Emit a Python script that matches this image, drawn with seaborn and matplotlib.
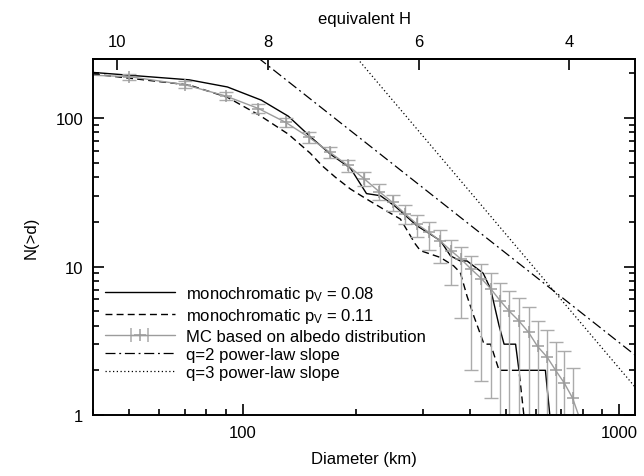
import numpy as np
import matplotlib
matplotlib.use("Agg")
import matplotlib.pyplot as plt
import seaborn as sns
from matplotlib.ticker import LogLocator, NullFormatter, NullLocator, FuncFormatter
from matplotlib.legend_handler import HandlerErrorbar

# ---------------- data ----------------
d_mono08 = [40, 72, 91, 112, 132, 151, 171, 193, 213, 232, 254, 290, 315, 335, 356, 378, 394, 435, 455, 479, 494, 530, 541, 636, 656]
n_mono08 = [203, 181, 162, 132, 103, 75, 57, 46, 31, 30, 25.4, 18.8, 16.5, 14.9, 11.8, 10.9, 10.9, 9.0, 7.05, 4.0, 3.0, 3.0, 2.0, 2.0, 0.9]

d_mono11 = [40, 72, 91, 111, 132, 151, 162, 176, 193, 213, 236, 262, 287, 296, 335, 363, 378, 394, 411, 437, 455, 479, 541, 560]
n_mono11 = [198, 167, 138, 104, 78, 58, 48, 40, 33.3, 28.5, 24.4, 20.9, 14.2, 12.8, 11.5, 10.1, 9.1, 6.3, 4.6, 3.0, 3.0, 2.0, 2.0, 0.9]

d_mc = [30, 50, 70, 90, 110, 130, 150, 170, 190, 210, 230, 250, 270, 290, 312, 334, 357, 380, 404, 430,
        455, 482, 510, 541, 574, 606, 643, 677, 713, 751, 790]
n_mc = [200, 190, 168, 141, 116, 93.5, 74, 59, 48, 39, 32, 27, 22.6, 19.3, 17, 14.9, 12.8, 11.2, 9.6, 8.3,
        7.1, 5.9, 5.0, 4.3, 3.6, 2.9, 2.45, 2.0, 1.65, 1.3, 0.9]
mc_err_lo = [5, 9, 8.5, 8, 7.5, 7, 6, 5.2, 4.6, 4.2, 3.8, 3.5, 3.4, 3.5, 4.0, 4.4, 5.3, 6.7, 7.6, 6.6,
             5.8, 5.0, 4.5, 3.8, 3.1, 2.4, 2.0, 1.6, 1.3, 1.0, 0.1]
mc_err_hi = [5, 9, 8.5, 8, 7.5, 7, 6, 5.2, 4.6, 4.2, 3.8, 3.5, 3.2, 3.0, 2.8, 2.6, 2.4, 2.3, 2.2, 2.1,
             2.0, 1.9, 1.8, 1.8, 1.7, 1.4, 1.3, 1.1, 1.05, 0.76, 0.05]

q2_d = [100, 1200]
q2_n = [307, 2.13]
q3_d = [190, 1200]
q3_n = [300, 1.19]

h_ticks = [10, 8, 6, 4]
h_zero_d = 4640.0   # diameter (km) corresponding to H = 0 on the top axis

labels = [r"monochromatic p$_\mathrm{V}$ = 0.08", r"monochromatic p$_\mathrm{V}$ = 0.11",
          "MC based on albedo distribution", "q=2 power-law slope", "q=3 power-law slope"]

# ---------------- style ----------------
sns.set_theme(style="ticks")
plt.rcParams["font.family"] = ["Liberation Sans", "DejaVu Sans"]
plt.rcParams.update({
    "font.size": 12,
    "axes.linewidth": 1.4,
    "axes.edgecolor": "black",
    "axes.labelcolor": "black",
    "text.color": "black",
    "xtick.color": "black",
    "ytick.color": "black",
    "mathtext.fontset": "custom",
    "mathtext.rm": "Liberation Sans",
    "mathtext.it": "Liberation Sans:italic",
})

fig = plt.figure(figsize=(6.44, 4.77), dpi=100)
ax = fig.add_axes([93 / 644, 61 / 477, (635 - 93) / 644, (416 - 60) / 477])

GRAY = "#9c9c9c"
EGRAY = "#ababab"

sns.lineplot(x=d_mono08, y=n_mono08, ax=ax, color="black", lw=1.0,
             estimator=None, sort=False)
h08 = ax.lines[-1]
sns.lineplot(x=d_mono11, y=n_mono11, ax=ax, color="black", lw=1.0, linestyle=(0, (5, 3)),
             estimator=None, sort=False)
h11 = ax.lines[-1]
ax.errorbar(d_mc, n_mc, yerr=[mc_err_lo, mc_err_hi], fmt="none", ecolor=EGRAY,
            elinewidth=1.0, capsize=5, capthick=1.0)
sns.lineplot(x=d_mc, y=n_mc, ax=ax, color=GRAY, lw=1.0, marker="+", markersize=9,
             markeredgewidth=1.1, markeredgecolor=GRAY, estimator=None, sort=False)
sns.lineplot(x=q2_d, y=q2_n, ax=ax, color="black", lw=0.9, linestyle=(0, (8, 3, 1.5, 3)),
             estimator=None, sort=False)
hq2 = ax.lines[-1]
sns.lineplot(x=q3_d, y=q3_n, ax=ax, color="black", lw=0.9, linestyle=(0, (1, 2)),
             estimator=None, sort=False)
hq3 = ax.lines[-1]

ax.set_xscale("log")
ax.set_yscale("log")
ax.set_xlim(40, 1100)
ax.set_ylim(1, 250)

fmt = FuncFormatter(lambda v, p: f"{v:g}")
ax.xaxis.set_major_locator(LogLocator(base=10))
ax.xaxis.set_minor_locator(LogLocator(base=10, subs=np.arange(2, 10)))
ax.xaxis.set_major_formatter(fmt)
ax.xaxis.set_minor_formatter(NullFormatter())
ax.yaxis.set_major_locator(LogLocator(base=10))
ax.yaxis.set_minor_locator(LogLocator(base=10, subs=np.arange(2, 10)))
ax.yaxis.set_major_formatter(fmt)
ax.yaxis.set_minor_formatter(NullFormatter())

ax.tick_params(which="both", direction="in", top=False, right=True, width=1.2, labelsize=12)
ax.tick_params(which="major", length=8, pad=7)
ax.tick_params(which="minor", length=4.5)

ax.set_xlabel("Diameter (km)", fontsize=12, labelpad=8)
ax.set_ylabel("N(>d)", fontsize=12, labelpad=12)


def d2h(d):
    d = np.asarray(d, dtype=float)
    d = np.where(d > 0, d, np.nan)
    return 5 * np.log10(h_zero_d / d)


def h2d(h):
    return h_zero_d * 10 ** (-np.asarray(h, dtype=float) / 5)


secax = ax.secondary_xaxis("top", functions=(d2h, h2d))
secax.set_xticks(h_ticks)
secax.xaxis.set_minor_locator(NullLocator())
secax.xaxis.set_major_formatter(FuncFormatter(lambda v, p: f"{v:g}"))
secax.tick_params(direction="in", length=8, width=1.2, labelsize=12, pad=7)
secax.set_xlabel("equivalent H", fontsize=12, labelpad=8)

# legend handle for the MC curve: gray line, '+' marker, end caps
mc_key = ax.errorbar([np.nan], [np.nan], xerr=[[1.0], [1.0]], fmt="-+", color=GRAY, ecolor=EGRAY,
                     elinewidth=1.0, capsize=5, capthick=1.0, markersize=9, mew=1.1, lw=1.0)
handles = [h08, h11, mc_key, hq2, hq3]
ax.legend(handles, labels, loc="lower left", bbox_to_anchor=(0.0, 0.065), frameon=False,
          handlelength=4.2, handletextpad=0.7, labelspacing=0.2, fontsize=12,
          handler_map={type(mc_key): HandlerErrorbar(xerr_size=0.5)}, borderaxespad=0.3)

fig.savefig("out.png", dpi=100)
